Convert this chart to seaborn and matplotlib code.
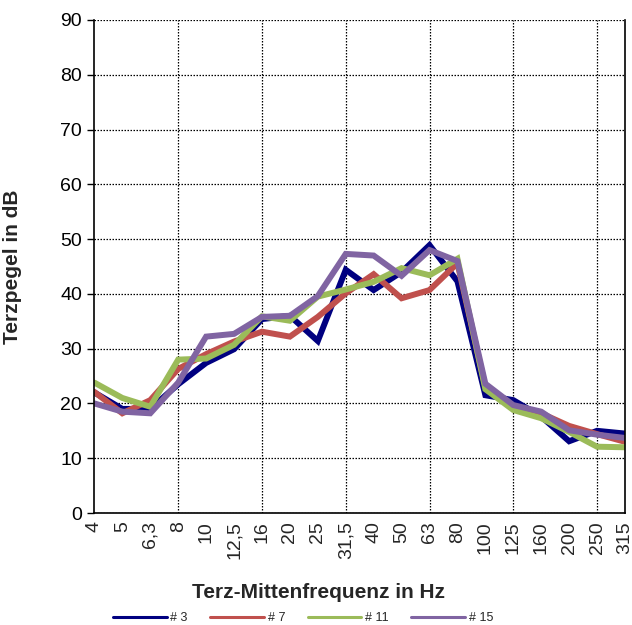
import matplotlib
matplotlib.use("Agg")
import matplotlib.pyplot as plt
import seaborn as sns
import pandas as pd

# Third-octave centre frequencies (German decimal comma)
frequencies = ["4", "5", "6,3", "8", "10", "12,5", "16", "20", "25", "31,5",
               "40", "50", "63", "80", "100", "125", "160", "200", "250", "315"]

# Sound pressure level per measurement point, dB
level_3 = [22.0, 19.0, 19.0, 23.5, 27.4, 29.9, 35.4, 36.0, 31.4, 44.4,
           40.7, 44.0, 48.9, 42.3, 21.5, 20.6, 17.6, 13.1, 15.0, 14.5]
level_7 = [22.1, 18.2, 20.6, 26.3, 29.0, 31.3, 33.1, 32.2, 35.8, 40.1,
           43.6, 39.2, 40.7, 45.6, 23.0, 19.4, 18.2, 15.9, 14.4, 13.0]
level_11 = [23.8, 21.0, 19.4, 28.0, 28.2, 30.7, 35.9, 35.1, 39.5, 40.8,
            42.2, 44.7, 43.4, 46.4, 22.6, 18.8, 17.3, 14.8, 12.1, 12.0]
level_15 = [20.0, 18.5, 18.2, 23.8, 32.2, 32.7, 35.8, 36.0, 39.6, 47.3,
            47.0, 43.3, 48.0, 46.0, 23.6, 19.7, 18.5, 15.1, 14.3, 13.7]

series = {"# 3": level_3, "# 7": level_7, "# 11": level_11, "# 15": level_15}
palette = {"# 3": "#000080", "# 7": "#C0504D", "# 11": "#9BBB59", "# 15": "#8064A2"}

rows = []
for name, values in series.items():
    for i, v in enumerate(values):
        rows.append({"pos": i, "Terzpegel": v, "Messpunkt": name})
df = pd.DataFrame(rows)

sns.set_style("white")
plt.rcParams["font.family"] = ["Liberation Sans", "DejaVu Sans"]

fig = plt.figure(figsize=(6.32, 6.25), dpi=100)
ax = fig.add_axes([94.4 / 632, 112 / 625, 530.6 / 632, 493 / 625])

sns.lineplot(data=df, x="pos", y="Terzpegel", hue="Messpunkt", palette=palette,
             linewidth=4.3, ax=ax, legend=True, solid_joinstyle="miter")

n = len(frequencies)
ax.set_xlim(0, n - 1)
ax.set_ylim(0, 90)
ax.set_yticks(range(0, 91, 10))
ax.tick_params(axis="y", labelsize=14, length=5, width=1, direction="out",
               left=True, colors="black", pad=4)

ax.set_xticks(range(n))
ax.set_xticklabels(frequencies, rotation=90)
grid_pos = list(range(0, n, 3))
ax.set_xticks(grid_pos + [n - 1], minor=True)
ax.tick_params(axis="x", which="major", labelsize=14, length=0, pad=6)
ax.tick_params(axis="x", which="minor", length=5, width=1, direction="out",
               bottom=True, labelbottom=False)

dots = (0, (1.2, 1.2))
ax.grid(axis="y", which="major", color="black", linestyle=dots, linewidth=0.9)
ax.grid(axis="x", which="both", visible=False)
for p in grid_pos[1:]:
    ax.axvline(p, color="black", linestyle=dots, linewidth=0.9, zorder=0.5)
ax.set_axisbelow(True)

for side in ["left", "bottom", "right"]:
    ax.spines[side].set_visible(True)
    ax.spines[side].set_color("black")
    ax.spines[side].set_linewidth(1.2)
ax.spines["top"].set_visible(False)

ax.set_ylabel("Terzpegel in dB", fontsize=15, fontweight="bold")
ax.yaxis.set_label_coords(-(94.4 - 22) / 530.6, 0.5)
ax.set_xlabel("Terz-Mittenfrequenz in Hz", fontsize=15, fontweight="bold")
ax.xaxis.set_label_coords((318.5 - 94.4) / 530.6, -(583 - 513) / 493)

handles, labels = ax.get_legend_handles_labels()
leg = ax.legend(handles, labels, loc="center", ncol=4, frameon=False,
                bbox_to_anchor=((303 - 94.4) / 530.6, -(618 - 513) / 493),
                fontsize=9, handlelength=4.3, handletextpad=0.3, columnspacing=1.8)
for line in leg.get_lines():
    line.set_linewidth(2.2)

fig.savefig("out.png", dpi=100)
